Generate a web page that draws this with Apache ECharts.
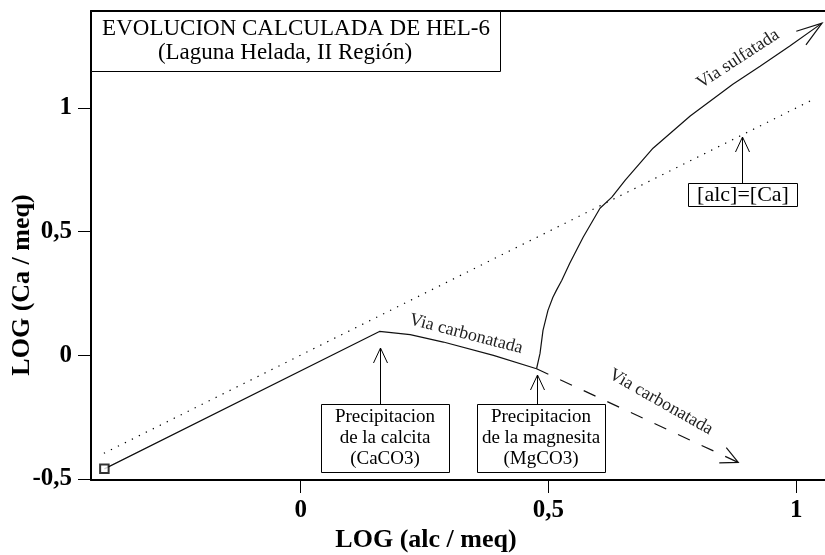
<!DOCTYPE html>
<html><head><meta charset="utf-8">
<script src="https://cdn.jsdelivr.net/npm/echarts@6/dist/echarts.min.js"></script>
<style>html,body{margin:0;padding:0;background:#fff}#c{width:825px;height:555px}</style>
</head><body><div id="c"></div>
<script>
// ---- data (log units) ----
const xTicks = [0, 0.5, 1];
const yTicks = [-0.5, 0, 0.5, 1];
const startPoint = [[-0.396, -0.460]];
const pathCarbonatada = [[-0.396,-0.460],[0.159,0.096],[0.221,0.083],[0.288,0.053],[0.389,-0.001],[0.476,-0.055]];
const pathSulfatada = [[0.476,-0.055],[0.483,0.007],[0.489,0.100],[0.499,0.181],[0.509,0.234],[0.516,0.262],[0.527,0.303],[0.543,0.372],[0.570,0.477],[0.604,0.594],[0.628,0.639],[0.655,0.708],[0.711,0.837],[0.786,0.967],[0.872,1.096],[0.927,1.169],[0.987,1.250],[1.052,1.343]];
const pathCarbonatadaFutura = [[0.476,-0.055],[0.883,-0.434]];
const lineAlcCa = [[-0.397,-0.397],[1.038,1.038]];

const arrowEnds = [
  pathSulfatada[pathSulfatada.length-1].concat(pathSulfatada[pathSulfatada.length-2]),
  pathCarbonatadaFutura[1].concat(pathCarbonatadaFutura[0])
];
const arrowLook = [{len:27, spread:18}, {len:19, spread:26}];

const SERIF = '"Liberation Serif","Times New Roman",serif';
const fmt = v => String(v).replace('.', ',');

const chart = echarts.init(document.getElementById('c'), null, {renderer:'canvas'});

function vArrow(x, yTail, yTip) {
  return [
    {type:'polyline', shape:{points:[[x,yTail],[x,yTip]]}, style:{stroke:'#000', lineWidth:1}, z:100},
    {type:'polyline', shape:{points:[[x-7,yTip+15],[x,yTip],[x+7,yTip+15]]}, style:{stroke:'#000', lineWidth:1, fill:null}, z:100}
  ];
}
function box(x, y, w, h, lines, cx, y0, lh, size) {
  const els = [{type:'rect', shape:{x:x+0.5, y:y+0.5, width:w, height:h}, style:{fill:'#fff', stroke:'#000', lineWidth:1}, z:100}];
  lines.forEach((t,i)=>els.push({type:'text', x:cx, y:y0+i*lh, style:{text:t, font:size+'px '+SERIF, fill:'#000', align:'center', verticalAlign:'middle'}, z:101}));
  return els;
}
function rotText(t, x, y, deg) {
  return {type:'text', x:x, y:y, rotation:deg*Math.PI/180, style:{text:t, font:'18px '+SERIF, fill:'#222', align:'center', verticalAlign:'middle'}, z:90};
}

const graphics = [].concat(
  [{type:'rect', shape:{x:91.5, y:11.5, width:409, height:60}, style:{fill:'#fff', stroke:'#000', lineWidth:1}, z:100},
   {type:'text', x:296, y:29, style:{text:'EVOLUCION CALCULADA DE HEL-6', font:'23px '+SERIF, fill:'#000', align:'center', verticalAlign:'middle'}, z:101},
   {type:'text', x:285, y:53, style:{text:'(Laguna Helada, II Región)', font:'23px '+SERIF, fill:'#000', align:'center', verticalAlign:'middle'}, z:101},
   {type:'text', x:426, y:540, style:{text:'LOG (alc / meq)', font:'bold 26px '+SERIF, fill:'#000', align:'center', verticalAlign:'middle'}, z:101},
   {type:'text', x:22, y:285, rotation:Math.PI/2, style:{text:'LOG (Ca / meq)', font:'bold 26px '+SERIF, fill:'#000', align:'center', verticalAlign:'middle'}, z:101}],
  box(321, 404, 128, 68, ['Precipitacion','de la calcita','(CaCO3)'], 385, 417, 21, 19),
  box(477, 404, 128, 68, ['Precipitacion','de la magnesita','(MgCO3)'], 541, 417, 21, 19),
  box(688, 183, 109, 23, ['[alc]=[Ca]'], 743, 195, 0, 22),
  vArrow(380.5, 404, 348),
  vArrow(537.5, 404, 375),
  vArrow(742.5, 183, 137),
  [rotText('Via carbonatada', 466, 334, -14.5),
   rotText('Via carbonatada', 661, 402, -29.5),
   rotText('Via sulfatada', 738, 59, 33)]
);

const option = {
  animation:false,
  backgroundColor:'#fff',
  grid:{left:91, right:0, top:11, bottom:75, containLabel:false, outerBoundsMode:'none'},
  xAxis:[{
    type:'value', min:-0.423, max:1.058,
    axisLine:{show:true, onZero:false, lineStyle:{color:'#000', width:2}},
    axisTick:{show:true, length:13, customValues:xTicks, lineStyle:{color:'#000', width:1}},
    axisLabel:{customValues:xTicks, formatter:fmt, margin:18, fontFamily:SERIF, fontWeight:'bold', fontSize:25, color:'#000'},
    splitLine:{show:false}
  },{
    type:'value', position:'top', min:-0.423, max:1.058,
    axisLine:{show:true, onZero:false, lineStyle:{color:'#000', width:2}},
    axisTick:{show:false}, axisLabel:{show:false}, splitLine:{show:false}
  }],
  yAxis:{
    type:'value', min:-0.505, max:1.392,
    axisLine:{show:true, onZero:false, lineStyle:{color:'#000', width:2}},
    axisTick:{show:true, length:13, customValues:yTicks, lineStyle:{color:'#000', width:1}},
    axisLabel:{customValues:yTicks, formatter:fmt, margin:19, fontFamily:SERIF, fontWeight:'bold', fontSize:25, color:'#000'},
    splitLine:{show:false}
  },
  series:[
    {type:'line', data:lineAlcCa, showSymbol:false, lineStyle:{color:'#000', width:1.2, type:[1.3,6.5]}, z:2},
    {type:'line', data:pathCarbonatada, showSymbol:false, lineStyle:{color:'#111', width:1.2}, z:3},
    {type:'line', data:pathSulfatada, showSymbol:false, lineStyle:{color:'#111', width:1.2}, z:3},
    {type:'line', data:pathCarbonatadaFutura, showSymbol:false, lineStyle:{color:'#111', width:1.2, type:[13,13]}, z:3},
    {type:'custom', data:arrowEnds, z:4, renderItem:function(params, api){
        const tip = api.coord([api.value(0), api.value(1)]);
        const prev = api.coord([api.value(2), api.value(3)]);
        const a = Math.atan2(prev[1]-tip[1], prev[0]-tip[0]);
        const s = arrowLook[params.dataIndex];
        const sp = s.spread*Math.PI/180;
        const p1 = [tip[0]+s.len*Math.cos(a+sp), tip[1]+s.len*Math.sin(a+sp)];
        const p2 = [tip[0]+s.len*Math.cos(a-sp), tip[1]+s.len*Math.sin(a-sp)];
        return {type:'polyline', shape:{points:[p1, tip, p2]}, style:{stroke:'#111', lineWidth:1.2, fill:null}};
    }},
    {type:'scatter', data:startPoint, symbol:'rect', symbolSize:8.5, itemStyle:{color:'#fff', borderColor:'#000', borderWidth:2}, z:5}
  ],
  graphic:graphics
};
chart.setOption(option);
</script>
</body></html>
